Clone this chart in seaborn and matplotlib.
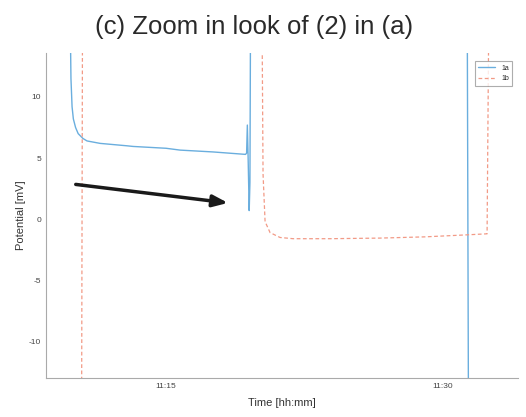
import numpy as np
import pandas as pd
import matplotlib
matplotlib.use("Agg")
import matplotlib.pyplot as plt
import seaborn as sns

# --- data (minutes after 11:00, potential in mV) ---
# values beyond the y-range (+/-20) are off-scale and get clipped
t_1a = [9.78, 9.85, 9.91, 9.98, 10.10, 10.24, 10.50, 10.72, 11.43, 12.9, 13.21,
        15.0, 15.76, 17.54, 19.30, 19.36, 19.40, 19.44, 19.50, 19.54, 19.58,
        31.30, 31.38, 34.5]
v_1a = [20.0, 11.5, 9.2, 8.2, 7.5, 7.0, 6.6, 6.4, 6.2, 6.0, 5.95,
        5.8, 5.65, 5.5, 5.3, 5.4, 7.7, 5.2, 0.7, 3.0, 20.0,
        20.0, -20.0, -20.0]

t_1b = [8.5, 10.42, 10.48, 20.18, 20.25, 20.36, 20.63, 21.17, 21.88, 23.88,
        26.59, 29.0, 31.08, 32.38, 32.49, 34.5]
v_1b = [-20.0, -20.0, 20.0, 20.0, 3.7, -0.2, -1.1, -1.5, -1.6, -1.6,
        -1.55, -1.45, -1.3, -1.2, 20.0, 20.0]

tick_pos = [15, 30]
tick_labels = ["11:15", "11:30"]
y_ticks = [-10, -5, 0, 5, 10]

df_a = pd.DataFrame({"t": t_1a, "v": v_1a})
df_b = pd.DataFrame({"t": t_1b, "v": v_1b})

sns.set_style("white")
plt.rcParams["font.family"] = ["Liberation Sans", "DejaVu Sans"]
plt.rcParams["axes.unicode_minus"] = False

fig = plt.figure(figsize=(5.26, 4.17), dpi=100)
ax = fig.add_axes([0.0875, 0.0935, 0.8975, 0.7795])

sns.lineplot(data=df_a, x="t", y="v", ax=ax, color="#6aaede", lw=1.0,
             label="1a", sort=False, estimator=None)
sns.lineplot(data=df_b, x="t", y="v", ax=ax, color="#f29a86", lw=0.9,
             label="1b", sort=False, estimator=None, linestyle=(0, (3, 2)))

ax.set_xlim(8.5, 34.06)
ax.set_ylim(-13.0, 13.6)
ax.set_xticks(tick_pos)
ax.set_xticklabels(tick_labels)
ax.set_yticks(y_ticks)
ax.tick_params(direction="in", length=3, width=0.6, colors="#777777",
               labelsize=6, labelcolor="#444444")
for s in ["top", "right"]:
    ax.spines[s].set_visible(False)
for s in ["left", "bottom"]:
    ax.spines[s].set_color("#aaaaaa")
    ax.spines[s].set_linewidth(0.8)

ax.set_xlabel("Time [hh:mm]", fontsize=8, color="#333333", labelpad=6)
ax.set_ylabel("Potential [mV]", fontsize=8, color="#333333", labelpad=2)

leg = ax.legend(loc="upper right", fontsize=5, frameon=True, fancybox=False,
                handlelength=2.5, borderpad=0.5, labelspacing=0.5,
                bbox_to_anchor=(0.995, 0.985))
leg.get_frame().set_edgecolor("#999999")
leg.get_frame().set_linewidth(0.8)

# black arrow pointing at the jump
ax.annotate("", xy=(18.5, 1.3), xytext=(9.96, 2.87),
            arrowprops=dict(arrowstyle="-|>,head_length=0.9,head_width=0.35",
                            color="#1a1a1a", lw=2.5))

fig.text(0.483, 0.935, "(c) Zoom in look of (2) in (a)", fontsize=18.5,
         ha="center", va="center", color="#2a2a2a")

fig.savefig("out.png", dpi=100)
